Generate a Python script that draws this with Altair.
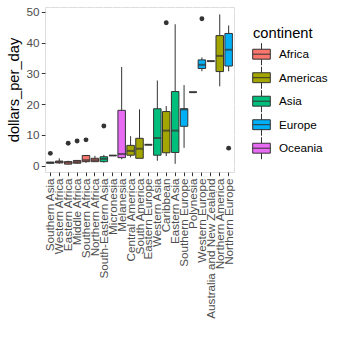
import altair as alt
import pandas as pd

regions = ["Southern Asia", "Western Africa", "Eastern Africa", "Middle Africa",
           "Southern Africa", "Northern Africa", "South-Eastern Asia", "Micronesia",
           "Melanesia", "Central America", "South America", "Eastern Europe",
           "Western Asia", "Caribbean", "Eastern Asia", "Southern Europe",
           "Polynesia", "Western Europe", "Australia and New Zealand",
           "Northern America", "Northern Europe"]
continents = ["Asia", "Africa", "Africa", "Africa", "Africa", "Africa", "Asia",
              "Oceania", "Oceania", "Americas", "Americas", "Europe", "Asia",
              "Americas", "Asia", "Europe", "Oceania", "Europe", "Oceania",
              "Americas", "Europe"]
lower = [0.7, 0.6, 0.4, 0.6, 0.9, 1.2, 1.0, 3.3, 2.1, 2.7, 2.4, 6.8, 1.6, 3.1,
         0.6, 5.8, 23.9, 30.7, 34.0, 25.8, 30.7]
q1 = [0.8, 0.9, 0.5, 0.8, 1.3, 1.3, 1.3, 3.3, 2.6, 3.4, 2.4, 6.8, 3.4, 4.2,
      4.3, 12.8, 23.9, 31.6, 34.0, 30.6, 32.4]
median = [1.0, 1.2, 1.0, 1.2, 1.8, 1.8, 2.2, 3.3, 3.8, 4.8, 5.5, 6.8, 9.0, 11.4,
          11.4, 18.3, 23.9, 32.8, 34.0, 35.7, 37.7]
q3 = [1.1, 1.5, 1.3, 1.7, 3.3, 2.4, 2.9, 3.3, 18.0, 6.6, 8.9, 6.8, 18.5, 17.6,
      24.1, 18.5, 23.9, 34.4, 34.0, 42.3, 43.0]
upper = [1.2, 2.4, 1.6, 1.8, 3.3, 3.2, 3.5, 3.3, 32.1, 9.6, 18.3, 6.8, 27.7, 19.4,
         46.0, 26.2, 23.9, 35.2, 34.0, 49.2, 45.6]
outlier_regions = ["Southern Asia", "Eastern Africa", "Middle Africa", "Southern Africa",
                   "South-Eastern Asia", "Caribbean", "Western Europe", "Northern Europe"]
outlier_values = [4.0, 7.3, 8.0, 8.4, 12.9, 46.5, 47.8, 5.7]

continent_names = ["Africa", "Americas", "Asia", "Europe", "Oceania"]
continent_colors = ["#F8766D", "#A3A500", "#00BF7D", "#00B0F6", "#E76BF3"]

box_df = pd.DataFrame({"region": regions, "continent": continents, "lower": lower,
                       "q1": q1, "median": median, "q3": q3, "upper": upper})
out_df = pd.DataFrame({"region": outlier_regions, "dollars_per_day": outlier_values})

W, H = 189, 165
x_enc = alt.X("region:N",
              scale=alt.Scale(domain=regions, paddingInner=0.1, paddingOuter=0.15),
              axis=alt.Axis(title=None, labelAngle=-90, labelAlign="right",
                            labelBaseline="middle", labelFontSize=11.7,
                            labelColor="#4D4D4D", labelPadding=2.2, domain=False,
                            tickColor="#333333", tickSize=3.7, tickWidth=1,
                            grid=True, gridColor="white", gridWidth=1.1,
                            labelFont="Liberation Sans"))
y_scale = alt.Scale(domain=[-2.06, 51.6], nice=False, zero=False)
y_axis = alt.Axis(title="dollars_per_day", values=list(range(0, 51, 5)),
                  labelExpr="datum.value % 10 === 0 ? datum.label : ''",
                  labelFontSize=11.7, labelColor="#4D4D4D", labelPadding=2.2,
                  domain=False, tickColor="#333333", tickSize=3.7, tickWidth=1,
                  tickOpacity={"condition": {"test": "datum.value % 10 !== 0", "value": 0}, "value": 1},
                  grid=True, gridColor="white",
                  gridWidth={"condition": {"test": "datum.value % 10 !== 0", "value": 0.55}, "value": 1.1},
                  titleFontSize=14.7, titleFontWeight="normal", titleColor="black",
                  titlePadding=5, labelFont="Liberation Sans", titleFont="Liberation Sans")

base = alt.Chart(box_df)
whiskers = base.mark_rule(color="#333333", strokeWidth=1).encode(
    x=x_enc, y=alt.Y("lower:Q", scale=y_scale, axis=y_axis), y2="upper:Q")
boxes = base.mark_bar(stroke="#333333", strokeWidth=1, size=7.5, opacity=1).encode(
    x=x_enc, y=alt.Y("q1:Q", scale=y_scale, axis=y_axis), y2="q3:Q",
    color=alt.Color("continent:N",
                    scale=alt.Scale(domain=continent_names, range=continent_colors),
                    legend=alt.Legend(title="continent", orient="none",
                                      legendX=208, legendY=19,
                                      titleFontSize=14.7, titleFontWeight="normal",
                                      titleColor="black", titleFont="Liberation Sans",
                                      labelFontSize=11.7, labelColor="black",
                                      labelFont="Liberation Sans",
                                      symbolType="M-1.1,-0.62H1.1V0.62H-1.1Z M0,-1.38V-0.62 M0,0.62V1.38 M-1.1,0H1.1",
                                      symbolSize=256, symbolStrokeColor="#333333",
                                      symbolStrokeWidth=1, symbolOpacity=1,
                                      rowPadding=-3.5, labelOffset=9, titlePadding=5)))
medians = base.mark_tick(color="#333333", thickness=2, size=7.5).encode(
    x=x_enc, y=alt.Y("median:Q", scale=y_scale, axis=y_axis))
points = alt.Chart(out_df).mark_circle(color="#333333", size=24, opacity=1).encode(
    x=x_enc, y=alt.Y("dollars_per_day:Q", scale=y_scale, axis=y_axis))

chart = alt.layer(whiskers, boxes, medians, points).properties(
    width=W, height=H,
    autosize=alt.AutoSizeParams(type="none"),
    padding={"left": 45, "top": 7, "right": 350 - 45 - W, "bottom": 353 - 7 - H},
).configure_view(fill="#EBEBEB", stroke=None).configure(font="Liberation Sans")

chart.save("out.html", embed_options={"renderer": "svg", "actions": False})
